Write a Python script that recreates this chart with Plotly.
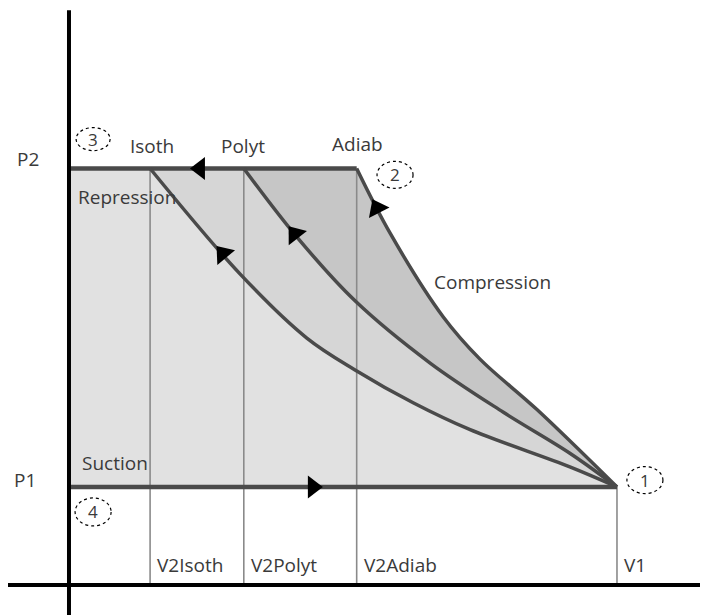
import plotly.graph_objects as go

# schematic P-V diagram of a compressor cycle (units)
P1 = 2.0
P2 = 8.5
V1 = 10.0
V2_ISOTH = 1.48
V2_POLYT = 3.19
V2_ADIAB = 5.25

isoth_v = [V2_ISOTH, 3.12, 4.34, 5.22, 6.28, 7.32, 9.14, V1]
isoth_p = [P2, 6.35, 5.04, 4.39, 3.72, 3.17, 2.41, P1]

polyt_v = [V2_POLYT, 4.16, 5.22, 6.59, 7.92, 9.14, V1]
polyt_p = [P2, 7.10, 5.80, 4.53, 3.53, 2.69, P1]

adiab_v = [V2_ADIAB, 5.86, 6.83, 7.50, 8.54, V1]
adiab_p = [P2, 7.18, 5.47, 4.61, 3.58, P1]

# direction arrows on the cycle
arrow_v = [2.39, 4.45, 2.81, 4.12, 5.62]
arrow_p = [P2, P1, 6.76, 7.16, 7.69]
arrow_symbol = ['triangle-left', 'triangle-right', 'triangle-up', 'triangle-up', 'triangle-up']
arrow_angle = [0, 0, -40, -38, -27]

volume_ticks = ['V2Isoth', 'V2Polyt', 'V2Adiab', 'V1']
volume_vals = [V2_ISOTH, V2_POLYT, V2_ADIAB, V1]
volume_tops = [P2, P2, P2, P1]

LINE = '#4a4a4a'
TEXT = '#3a3a3a'
FONT = 'Open Sans'
CURVE = dict(color=LINE, width=3.5, shape='spline', smoothing=1.0)

fig = go.Figure()

# shaded work areas
fig.add_trace(go.Scatter(x=[0, 0] + isoth_v, y=[P1, P2] + isoth_p, fill='toself',
                         fillcolor='#e1e1e1', mode='lines', line=dict(width=0)))
fig.add_trace(go.Scatter(x=polyt_v + isoth_v[::-1], y=polyt_p + isoth_p[::-1], fill='toself',
                         fillcolor='#d6d6d6', mode='lines', line=dict(width=0)))
fig.add_trace(go.Scatter(x=adiab_v + polyt_v[::-1], y=adiab_p + polyt_p[::-1], fill='toself',
                         fillcolor='#c6c6c6', mode='lines', line=dict(width=0)))

# thin volume markers
for v, top in zip(volume_vals, volume_tops):
    fig.add_trace(go.Scatter(x=[v, v], y=[0, top], mode='lines',
                             line=dict(color='#8a8a8a', width=1.6)))

# pressure lines
fig.add_trace(go.Scatter(x=[0, V2_ADIAB], y=[P2, P2], mode='lines', line=dict(color=LINE, width=4.5)))
fig.add_trace(go.Scatter(x=[0, V1], y=[P1, P1], mode='lines', line=dict(color=LINE, width=4.5)))

# compression curves
for xs, ys in [(isoth_v, isoth_p), (polyt_v, polyt_p), (adiab_v, adiab_p)]:
    fig.add_trace(go.Scatter(x=xs, y=ys, mode='lines', line=CURVE))

fig.add_trace(go.Scatter(x=arrow_v, y=arrow_p, mode='markers',
                         marker=dict(symbol=arrow_symbol, angle=arrow_angle, size=20, color='black')))

# axes
fig.add_shape(type='line', xref='paper', yref='y', x0=0, x1=1, y0=0, y1=0,
              line=dict(color='black', width=4))
fig.add_shape(type='line', xref='x', yref='y', x0=0, x1=0, y0=-0.78, y1=11.73,
              line=dict(color='black', width=4))

def label(text, x, y, anchor='center', size=19):
    fig.add_annotation(x=x, y=y, text=text, showarrow=False, xanchor=anchor,
                       font=dict(family=FONT, size=size, color=TEXT))

label('P2', -0.75, 8.69)
label('P1', -0.80, 2.14)
label('Isoth', 1.52, 8.96)
label('Polyt', 3.18, 8.96)
label('Adiab', 5.27, 9.00)
label('Repression', 0.13, 7.92, 'left')
label('Compression', 6.62, 6.18, 'left')
label('Suction', 0.20, 2.49, 'left')
for name, v in zip(volume_ticks, volume_vals):
    label(name, v + 0.09, 0.41, 'left')

# numbered state points
for num, v, p, w, h in [('3', 0.44, 9.10, 34, 23), ('2', 5.95, 8.37, 36, 27),
                        ('1', 10.51, 2.14, 36, 27), ('4', 0.44, 1.49, 36, 28)]:
    fig.add_shape(type='circle', xref='x', yref='y', xsizemode='pixel', ysizemode='pixel',
                  xanchor=v, yanchor=p, x0=-w / 2, x1=w / 2, y0=-h / 2, y1=h / 2,
                  line=dict(color='black', width=1.2, dash='dot'))
    label(num, v, p, size=17)

# ranges offset by the page's 8px body margin
fig.update_layout(
    width=708, height=615,
    margin=dict(l=0, r=0, t=0, b=0),
    plot_bgcolor='white', paper_bgcolor='white',
    showlegend=False,
    xaxis=dict(visible=False, range=[-1.113, 11.807]),
    yaxis=dict(visible=False, range=[-0.776, 11.776]),
)

fig.write_html("out.html")
